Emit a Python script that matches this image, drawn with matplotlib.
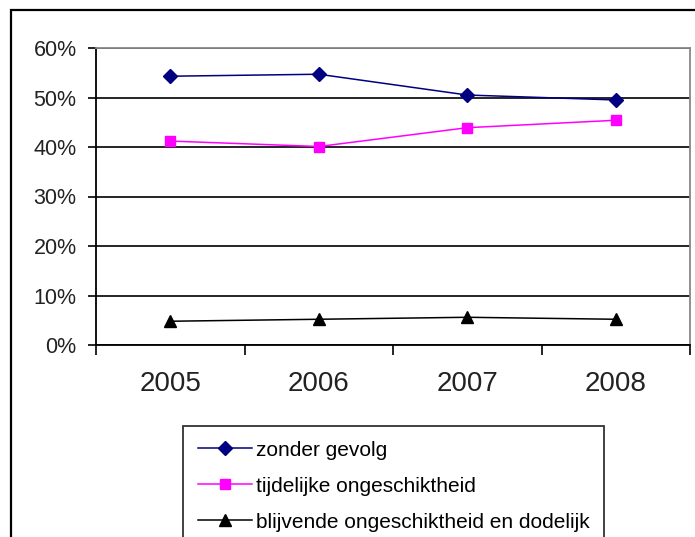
import matplotlib
matplotlib.use("Agg")
import matplotlib.pyplot as plt
from matplotlib.patches import Rectangle
from matplotlib.ticker import FixedLocator, PercentFormatter

plt.rcParams['font.family'] = ['Liberation Sans', 'DejaVu Sans']

# data (percentages)
years = ["2005", "2006", "2007", "2008"]
zonder_gevolg = [54.3, 54.7, 50.5, 49.5]
tijdelijke = [41.2, 40.1, 43.9, 45.4]
blijvende = [4.8, 5.2, 5.6, 5.2]
labels = ["zonder gevolg", "tijdelijke ongeschiktheid",
          "blijvende ongeschiktheid en dodelijk"]

fig = plt.figure(figsize=(6.95, 5.37), dpi=100)
fig.patch.set_facecolor("white")

# outer chart frame (runs off the right and bottom edge like the screenshot)
top = 1 - 10 / 537
fig.patches.append(Rectangle((11 / 695, -0.2), 1.2, top + 0.2,
                             transform=fig.transFigure, fill=False,
                             edgecolor="black", linewidth=1.6, clip_on=False))

ax = fig.add_axes([96 / 695, 1 - 345 / 537, (690 - 96) / 695, (345 - 48) / 537])

x = range(len(years))
ax.plot(x, zonder_gevolg, color="#000080", marker="D", markersize=7,
        linewidth=1.1, label=labels[0])
ax.plot(x, tijdelijke, color="#ff00ff", marker="s", markersize=7.5,
        linewidth=1.1, label=labels[1])
ax.plot(x, blijvende, color="black", marker="^", markersize=8,
        linewidth=1.1, label=labels[2])

ax.set_xlim(-0.5, len(years) - 0.5)
ax.set_ylim(0, 60)
ax.set_yticks(range(0, 61, 10))
ax.yaxis.set_major_formatter(PercentFormatter(decimals=0))
ax.yaxis.grid(True, color="black", linewidth=1.2)
ax.set_axisbelow(True)

# category boundaries carry the tick marks, labels sit in the middle
ax.xaxis.set_major_locator(FixedLocator([i - 0.5 for i in range(len(years) + 1)]))
ax.xaxis.set_minor_locator(FixedLocator(list(x)))
ax.set_xticklabels([], minor=False)
ax.set_xticklabels(years, minor=True)
ax.tick_params(axis="x", which="major", length=7, width=1.2, direction="out")
ax.tick_params(axis="x", which="minor", length=0, pad=19, labelsize=20,
               labelcolor="#222222")
ax.tick_params(axis="y", length=6, width=1.2, pad=8, labelsize=15.5,
               labelcolor="#222222")

for side in ("left", "bottom"):
    ax.spines[side].set_color("black")
    ax.spines[side].set_linewidth(1.3)
for side in ("top", "right"):
    ax.spines[side].set_color("#888888")
    ax.spines[side].set_linewidth(1.3)

leg = fig.legend(loc="upper left", bbox_to_anchor=(183 / 695, 1 - 426 / 537),
                 frameon=True, fancybox=False, fontsize=15,
                 handlelength=2.6, handletextpad=0.2, borderpad=0.7,
                 labelspacing=0.82, borderaxespad=0)
leg.get_frame().set_edgecolor("black")
leg.get_frame().set_linewidth(1.3)

fig.savefig("out.png", dpi=100)
